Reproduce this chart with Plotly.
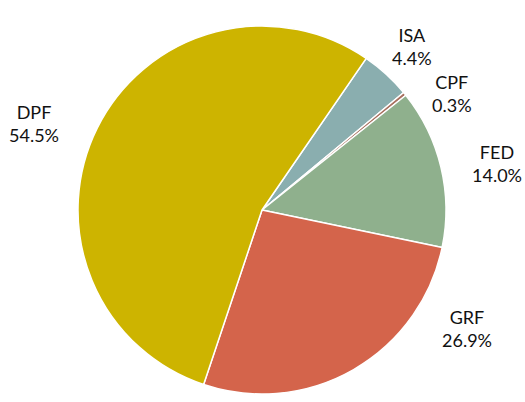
import plotly.graph_objects as go

labels = ["ISA", "CPF", "FED", "GRF", "DPF"]
values = [4.4, 0.3, 14.0, 26.9, 54.5]
colors = ["#8AAEAF", "#A8705F", "#8FB08D", "#D4644B", "#CDB400"]

# label anchor positions in pixels (layout only): (x, y, xanchor)
label_px = {"ISA": (412, 46, "center"), "CPF": (452, 93, "center"),
            "FED": (524, 164, "right"), "GRF": (467, 328, "center"),
            "DPF": (34, 124, "center")}

W, H = 525, 402
fig = go.Figure(go.Pie(
    labels=labels, values=values, sort=False, direction="clockwise",
    rotation=34.5, marker=dict(colors=colors, line=dict(color="white", width=1.5)),
    textinfo="none", hoverinfo="label+value", showlegend=False,
    domain=dict(x=[78 / W, 446 / W], y=[1 - 394 / H, 1 - 26 / H]),
))

for lab, v in zip(labels, values):
    px, py, xa = label_px[lab]
    fig.add_annotation(x=px / W, y=1 - py / H, xref="paper", yref="paper",
                       text=f"{lab}<br>{v:.1f}%", showarrow=False,
                       font=dict(family="Lato", size=18, color="#111111"),
                       align="center", xanchor=xa, yanchor="middle")

fig.update_layout(width=W, height=H, margin=dict(l=0, r=0, t=0, b=0),
                  paper_bgcolor="white", plot_bgcolor="white")
fig.write_html("out.html", config={"displayModeBar": False},
               post_script="document.body.style.margin='0';document.body.style.overflow='hidden';")
